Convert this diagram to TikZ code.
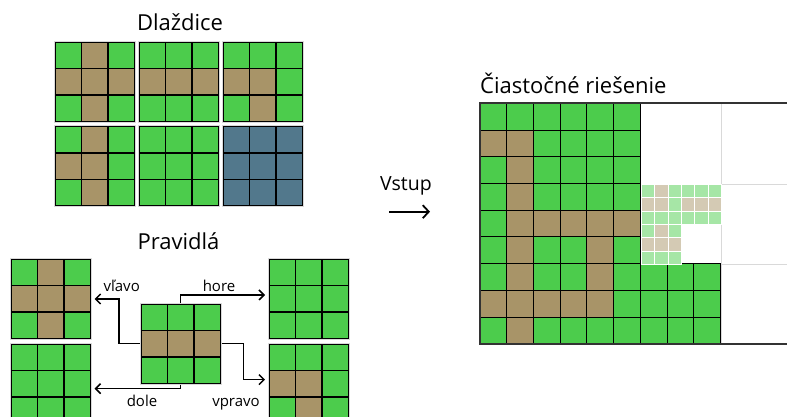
\documentclass[tikz,border=0pt]{standalone}
\usepackage{fontspec}
\setmainfont{Open Sans}
\usetikzlibrary{arrows.meta}

\definecolor{cG}{RGB}{76,204,76}
\definecolor{cB}{RGB}{168,148,104}
\definecolor{cW}{RGB}{82,120,140}
\definecolor{cLG}{RGB}{166,230,166}
\definecolor{cLB}{RGB}{212,202,180}

% one 3x3 tile: name, top-left x, top-left y, cell colours row by row
\newcommand{\tile}[4]{%
  \begin{scope}[shift={(#2,#3)}]
    \foreach \clr [count=\i from 0] in {#4} {
      \pgfmathtruncatemacro{\cx}{mod(\i,3)}
      \pgfmathtruncatemacro{\cy}{\i/3}
      \draw[cell,fill=c\clr] (\cx*26.43,\cy*26.43) rectangle ++(26.43,26.43);
    }
  \end{scope}
  \node[tilebox] (#1) at (#2+39.65,#3+39.65) {};
}

\begin{document}
\begin{tikzpicture}[x=1pt,y=-1pt,line join=miter]
    \tikzstyle{cell}=[draw=black,line width=1.5pt]
    \tikzstyle{fine}=[draw=black,line width=0.8pt]
    \tikzstyle{sub}=[draw=white,line width=0.6pt]
    \tikzstyle{tilebox}=[draw=black!15,line width=0.8pt,minimum size=81pt,inner sep=0pt]
    \tikzstyle{rule}=[-{Straight Barb[length=5pt,width=10pt]},line width=1.5pt,shorten >=3pt]
    \tikzstyle{title}=[font=\fontsize{22}{26}\selectfont,anchor=base,inner sep=0pt]
    \tikzstyle{lbl}=[font=\fontsize{15}{18}\selectfont,anchor=base,inner sep=0pt]
    \useasboundingbox (0,0) rectangle (787,417);

    % tiles
    \node[title] (dl) at (180,31) {Dlaždice};
    \tile{t1}{55}{42.3}{G,B,G,B,B,B,G,B,G}
    \tile{t2}{139}{42.3}{G,G,G,B,B,B,G,G,G}
    \tile{t3}{223}{42.3}{G,G,G,B,B,G,G,B,G}
    \tile{t4}{55}{126.7}{G,B,G,B,B,G,G,B,G}
    \tile{t5}{139}{126.7}{G,G,G,G,G,G,G,G,G}
    \tile{t6}{223}{126.7}{W,W,W,W,W,W,W,W,W}

    % rules
    \node[title] (pr) at (178.5,249) {Pravidlá};
    \tile{lt}{11}{259.3}{G,B,G,B,B,B,G,B,G}
    \tile{lb}{11}{344}{G,G,G,G,G,G,G,G,G}
    \tile{mid}{141}{304}{G,G,G,B,B,B,G,G,G}
    \tile{rt}{269.3}{259.3}{G,G,G,G,G,G,G,G,G}
    \tile{rb}{269.3}{344}{G,G,G,B,B,G,G,B,G}

    \draw[rule] (mid.west) -- ++(-21,0) |- (lt.east);
    \draw[rule] (mid.north) |- ([yshift=4pt]rt.west);
    \draw[rule] (mid.east) -- ++(22,0) |- ([yshift=4pt]rb.west);
    \draw[rule] (mid.south) |- ([yshift=-5pt]lb.east);
    \node[lbl] (lv) at (121.7,291.7) {vľavo};
    \node[lbl] (hr) at (219,291.7) {hore};
    \node[lbl] (dl2) at (142,406.7) {dole};
    \node[lbl] (vp) at (236,406.7) {vpravo};

    % input arrow
    \node[lbl,font=\fontsize{19.5}{23}\selectfont] (vs) at (406,190.7) {Vstup};
    \coordinate (in) at (389,211.7);
    \coordinate (out) at (430,211.7);
    \draw[line width=1.8pt,-{Straight Barb[length=6pt,width=13pt]}] (in) -- (out);

    % partial solution
    \node[title,anchor=base west] (cs) at (480,94) {Čiastočné riešenie};
    \draw[draw=black!15,line width=1pt] (721,103.3) -- (721,344);
    \draw[draw=black!15,line width=1pt] (641,184) -- (787,184);
    \draw[draw=black!15,line width=1pt] (721,264) -- (787,264);
    \foreach \cells [count=\r from 0] in {{G,G,G,G,G,G},{B,B,G,G,G,G},{G,B,G,G,G,G},
        {G,B,G,G,G,G},{G,B,B,B,B,B},{G,B,G,G,B,G},{G,B,G,G,B,G,G,G,G},
        {B,B,B,B,B,G,G,G,G},{G,B,G,G,G,G,G,G,G}} {
      \foreach \clr [count=\k from 0] in \cells {
        \draw[fine,fill=c\clr] (480+\k*26.7,103.3+\r*26.7) rectangle ++(26.7,26.7);
      }
    }
    \foreach \cells [count=\r from 0] in {{G,B,G,G,G,G},{B,B,G,B,B,B},{G,G,G,G,G,G},
        {G,B,G},{B,B,B},{G,G,G}} {
      \foreach \clr [count=\k from 0] in \cells {
        \draw[sub,fill=cL\clr] (641.4+\k*13.3,184.3+\r*13.3) rectangle ++(13.3,13.3);
      }
    }
    \draw[draw=black!80,line width=1.8pt] (787,103.3) -- (480,103.3) -- (480,344) -- (787,344);
\end{tikzpicture}
\end{document}
